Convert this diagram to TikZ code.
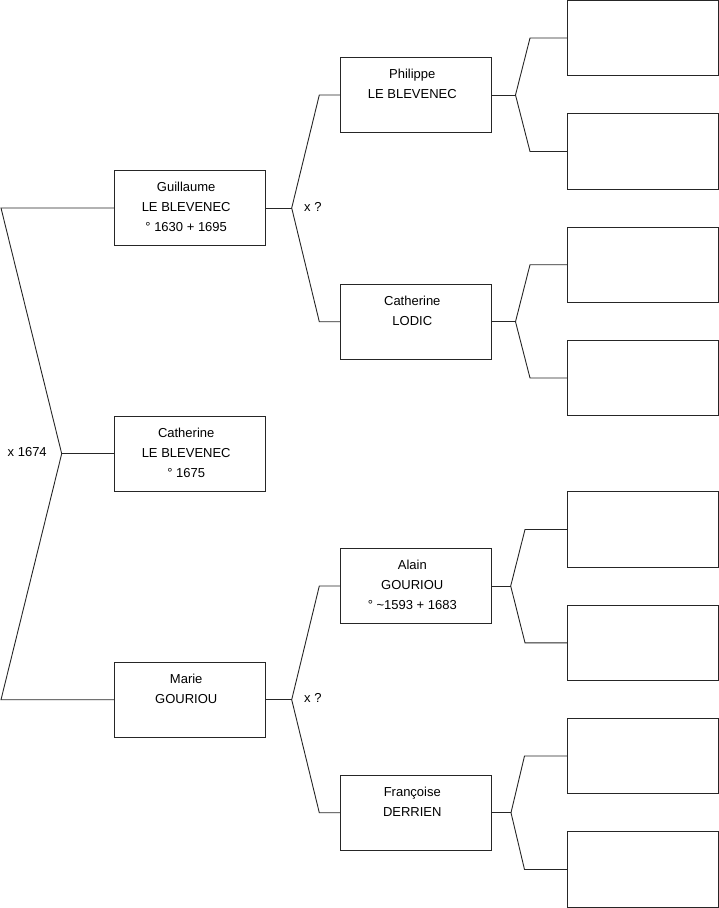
\documentclass[tikz,border=0pt]{standalone}
\usepackage{fontspec}
\setmainfont{Liberation Sans}
\newcommand\persontext[2]{\node[txt] at ([yshift=-21.7pt,xshift=-3.5pt]#1.north) {\setlength\tabcolsep{0pt}\begin{tabular}[t]{c}#2\end{tabular}};}
\begin{document}
\begin{tikzpicture}[x=1pt,y=-1pt,
  box/.style={draw=black!85, line width=0.9pt, minimum width=151pt, minimum height=75.5pt, inner sep=0pt},
  txt/.style={anchor=base, inner sep=0pt, font=\fontsize{13}{20}\selectfont},
  lbl/.style={anchor=base west, inner sep=0pt, font=\fontsize{13}{15}\selectfont},
  link/.style={draw=black!85, line width=0.9pt}]
\useasboundingbox (0,0) rectangle (719,908);

% generation 1
\node[box] (cat) at (189.7,453.7) {};
\persontext{cat}{Catherine\\LE BLEVENEC\\° 1675}
% generation 2
\node[box] (gui) at (189.7,208) {};
\persontext{gui}{Guillaume\\LE BLEVENEC\\° 1630 + 1695}
\node[box] (mar) at (189.7,699.7) {};
\persontext{mar}{Marie\\GOURIOU}
% generation 3
\node[box] (phi) at (415.8,95) {};
\persontext{phi}{Philippe\\LE BLEVENEC}
\node[box] (lod) at (415.8,321.7) {};
\persontext{lod}{Catherine\\LODIC}
\node[box] (ala) at (415.8,586) {};
\persontext{ala}{Alain\\GOURIOU\\° \textasciitilde1593 + 1683}
\node[box] (fra) at (415.8,812.7) {};
\persontext{fra}{Françoise\\DERRIEN}
% generation 4 (empty)
\node[box] (r1) at (642.8,38) {};
\node[box] (r2) at (642.8,151.5) {};
\node[box] (r3) at (642.8,264.7) {};
\node[box] (r4) at (642.8,378) {};
\node[box] (r5) at (642.8,529.5) {};
\node[box] (r6) at (642.8,642.8) {};
\node[box] (r7) at (642.8,756) {};
\node[box] (r8) at (642.8,869.5) {};

% junction points
\coordinate (vc) at (61.7,453.7);
\coordinate (gl) at (1,208);
\coordinate (ml) at (1,699.7);

\coordinate (vg) at (291.7,208);
\coordinate (pb) at (319.3,95);
\coordinate (lb) at (319.3,321.7);

\coordinate (vm) at (291.7,699.7);
\coordinate (ab) at (319.3,586);
\coordinate (fb) at (319.3,812.7);

\coordinate (vp) at (515.5,95);
\coordinate (b1) at (530,38);
\coordinate (b2) at (530,151.5);
\coordinate (vl) at (515.5,321.7);
\coordinate (b3) at (530,264.7);
\coordinate (b4) at (530,378);
\coordinate (va) at (510.7,586);
\coordinate (b5) at (525,529.5);
\coordinate (b6) at (525,642.8);
\coordinate (vf) at (511,812.7);
\coordinate (b7) at (524.5,756);
\coordinate (b8) at (524.5,869.5);

% connectors
\draw[link] (gui.west) -- (gl) -- (vc) -- (ml) -- (mar.west);
\draw[link] (vc) -- (cat.west);

\draw[link] (gui.east) -- (vg);
\draw[link] (phi.west) -- (pb) -- (vg) -- (lb) -- (lod.west);
\draw[link] (mar.east) -- (vm);
\draw[link] (ala.west) -- (ab) -- (vm) -- (fb) -- (fra.west);

\draw[link] (phi.east) -- (vp);
\draw[link] (r1.west) -- (b1) -- (vp) -- (b2) -- (r2.west);
\draw[link] (lod.east) -- (vl);
\draw[link] (r3.west) -- (b3) -- (vl) -- (b4) -- (r4.west);
\draw[link] (ala.east) -- (va);
\draw[link] (r5.west) -- (b5) -- (va) -- (b6) -- (r6.west);
\draw[link] (fra.east) -- (vf);
\draw[link] (r7.west) -- (b7) -- (vf) -- (b8) -- (r8.west);

% marriage labels
\node[lbl] (m1) at (7.5,456) {x 1674};
\node[lbl] (m2) at (304,211.7) {x ?};
\node[lbl] (m3) at (304,702.3) {x ?};
\end{tikzpicture}
\end{document}
